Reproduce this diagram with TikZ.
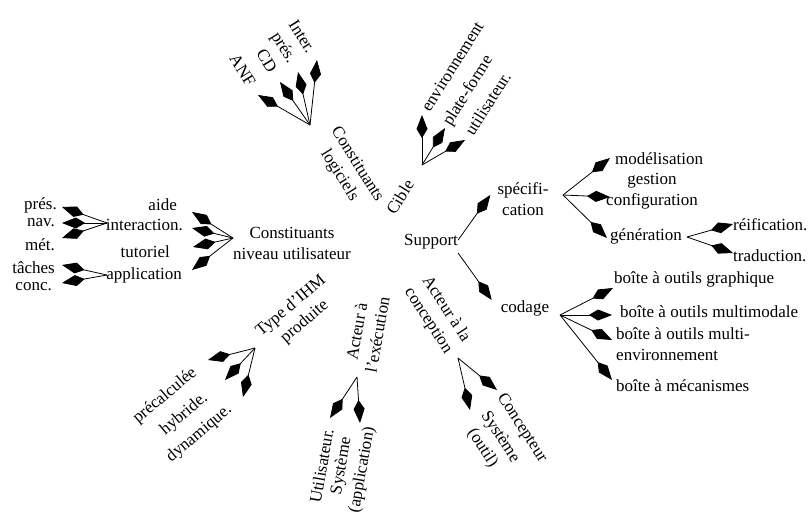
\documentclass[tikz,border=0pt]{standalone}
\usepackage{fontspec}
\setmainfont{Liberation Serif}
\usetikzlibrary{arrows.meta}
\begin{document}
\begin{tikzpicture}[x=1pt,y=-1pt,
  every node/.style={font=\fontsize{17}{21}\selectfont, inner sep=2pt},
  arr/.style={line width=0.8pt, -{Kite[length=23pt,width=11pt,inset=9pt]}},
]
\path[use as bounding box] (0,0) rectangle (810,514);

% ---- hub and its two drawn branches
\node (support) at (431,242) {Support};
\node[align=center] (spec) at (523,199) {spécifi-\\cation};
\node (codage) at (525,308) {codage};
\draw[arr] ([shift={(-2,-2)}]support.east) -- ([shift={(-5,-4)}]spec.west);
\draw[arr] ([shift={(-2,11)}]support.east) -- ([shift={(-7,-8)}]codage.west);

% ---- specification
\coordinate (specf) at (563,195);
\node[anchor=west] (mod) at (613,159) {modélisation};
\node[align=center] (gc) at (652,191) {gestion\\configuration};
\node[anchor=west] (gen) at (608,236) {génération};
\draw[arr] (specf) -- ([shift={(-3,-1)}]mod.west);
\draw[arr] (specf) -- ([shift={(6,6)}]gc.west);
\draw[arr] (specf) -- ([shift={(-1,2)}]gen.west);

\coordinate (genf) at (687,237);
\node[anchor=west] (reif) at (731,225) {réification.};
\node[anchor=west] (trad) at (731,256) {traduction.};
\draw[arr] (genf) -- ([shift={(2,-1)}]reif.west);
\draw[arr] (genf) -- ([shift={(2,-3)}]trad.west);

% ---- coding
\coordinate (codf) at (560,315);
\node[anchor=west] (bg) at (612,279) {boîte à outils graphique};
\node[anchor=west] (bmm) at (618,312) {boîte à outils multimodale};
\node[anchor=west, align=left] (bme) at (614,344) {boîte à outils multi-\\environnement};
\node[anchor=west] (bmc) at (614,386) {boîte à mécanismes};
\draw[arr] (codf) -- ([shift={(1,9)}]bg.west);
\draw[arr] (codf) -- ([shift={(-6,3)}]bmm.west);
\draw[arr] (codf) -- ([shift={(-2,-4)}]bme.west);
\draw[arr] (codf) -- ([shift={(-2,-6)}]bmc.west);

% ---- user level constituents
\node[align=center] (cnu) at (292,243) {Constituants\\niveau utilisateur};
\coordinate (cnuf) at (233,238);
\node[anchor=east] (aide) at (179,205) {aide};
\node[anchor=east] (inter) at (185,225) {interaction.};
\node[anchor=east] (tuto) at (172,252) {tutoriel};
\node[anchor=east] (appl) at (184,275) {application};
\draw[arr] (cnuf) -- ([shift={(13,7)}]aide.east);
\draw[arr] (cnuf) -- ([shift={(7,3)}]inter.east);
\draw[arr] (cnuf) -- ([shift={(21,-5)}]tuto.east);
\draw[arr] (cnuf) -- ([shift={(8,-5)}]appl.east);

\coordinate (interf) at (107,223);
\coordinate (applf) at (107,275);
\node[anchor=east] (pres) at (59,205) {prés.};
\node[anchor=east] (nav) at (57,223) {nav.};
\node[anchor=east] (met) at (57,245) {mét.};
\node[anchor=east] (tach) at (57,268) {tâches};
\node[anchor=east] (conc) at (54,287) {conc.};
\draw[arr] (interf) -- ([shift={(3,2)}]pres.east);
\draw[arr] (interf) -- ([shift={(5,0)}]nav.east);
\draw[arr] (interf) -- ([shift={(5,-7)}]met.east);
\draw[arr] (applf) -- ([shift={(5,-3)}]tach.east);
\draw[arr] (applf) -- ([shift={(8,-4)}]conc.east);

% ---- software constituents
\node[align=center, rotate=-58] (cl) at (348,170) {Constituants\\logiciels};
\coordinate (clf) at (310,125);
\node[rotate=-58, anchor=east, inner xsep=12pt] (anf) at (258,95) {ANF};
\node[rotate=-58, anchor=east, inner xsep=13pt] (cd) at (280,82) {CD};
\node[rotate=-58, anchor=east, inner xsep=12pt] (pres2) at (298,72) {prés.};
\node[rotate=-58, anchor=east, inner xsep=10pt] (int2) at (317,60) {Inter.};
\draw[arr] (clf) -- (anf.east);
\draw[arr] (clf) -- (cd.east);
\draw[arr] (clf) -- (pres2.east);
\draw[arr] (clf) -- (int2.east);

% ---- target
\node[rotate=58] (cible) at (400,197) {Cible};
\coordinate (cbf) at (422,165);
\node[rotate=58, anchor=west, inner xsep=6pt] (env) at (422,115) {environnement};
\node[rotate=58, anchor=west, inner xsep=4pt] (plat) at (445,128) {plate-forme};
\node[rotate=58, anchor=west, inner xsep=7pt] (usr) at (465,140) {utilisateur.};
\draw[arr] (cbf) -- (env.west);
\draw[arr] (cbf) -- (plat.west);
\draw[arr] (cbf) -- (usr.west);

% ---- type of UI produced
\node[align=center, rotate=40] (typ) at (298,314) {Type d'IHM\\produite};
\coordinate (typf) at (255,348);
\node[rotate=40, anchor=east, inner xsep=17pt] (prec) at (208,360) {précalculée};
\node[rotate=40, anchor=east, inner xsep=25pt] (hyb) at (225,380) {hybride.};
\node[rotate=40, anchor=east, inner xsep=17pt] (dyn) at (243,397) {dynamique.};
\draw[arr] (typf) -- (prec.east);
\draw[arr] (typf) -- (hyb.east);
\draw[arr] (typf) -- (dyn.east);

% ---- run-time actor
\node[align=center, rotate=80] (aex) at (367,333) {Acteur à\\l'exécution};
\coordinate (aexf) at (357,377);
\node[rotate=80, anchor=east, inner xsep=11pt] (usr2) at (330,418) {Utilisateur.};
\node[rotate=80, anchor=east, align=center, inner xsep=2pt] (sysa) at (360,423) {Système\\(application)};
\draw[arr] (aexf) -- (usr2.east);
\draw[arr] (aexf) -- (sysa.east);

% ---- design-time actor
\node[align=center, rotate=-57] (acc) at (437,315) {Acteur à la\\conception};
\coordinate (accf) at (458,358);
\node[rotate=-57, anchor=west, inner xsep=6pt] (concp) at (497,390) {Concepteur};
\node[rotate=-57, anchor=west, align=center, inner xsep=10pt] (syso) at (470,410) {Système\\(outil)};
\draw[arr] (accf) -- (concp.west);
\draw[arr] (accf) -- (syso.west);
\end{tikzpicture}
\end{document}
